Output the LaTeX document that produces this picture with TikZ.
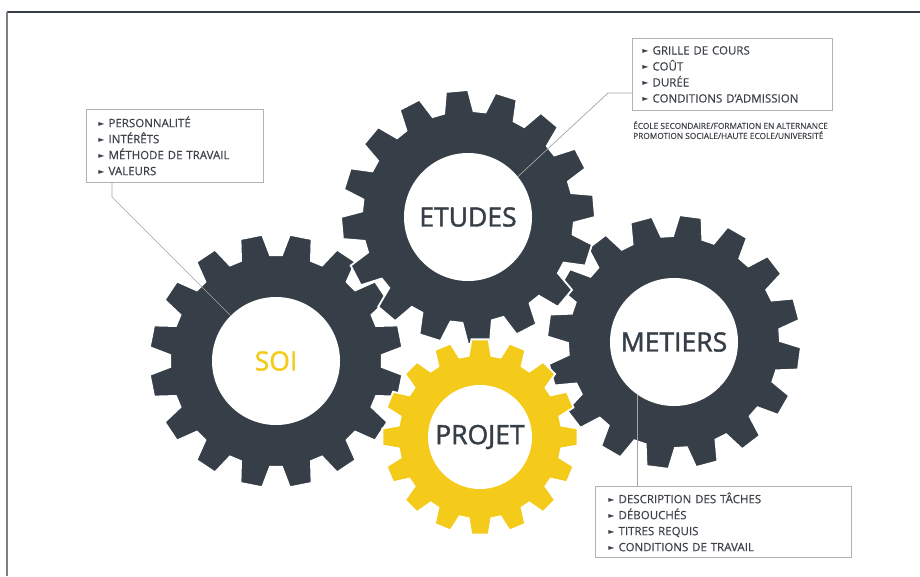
\documentclass[tikz,border=0pt]{standalone}
\usepackage{fontspec}
\setmainfont{Open Sans}[FakeBold=0.4]
\newfontfamily\hubfont{Open Sans}[FakeBold=1.6]
\newfontfamily\symbfont{DejaVu Sans}
\usetikzlibrary{positioning}
\definecolor{slate}{HTML}{363F48}
\definecolor{sun}{HTML}{F5CB1B}
\definecolor{inkgray}{HTML}{3E434A}
\def\tri{{\symbfont\fontsize{8}{8}\selectfont\raisebox{0.6pt}{►}}\hspace{4pt}}
% gear: centre, outer radius, root radius, offset, colour
\def\gear#1#2#3#4#5{\filldraw[#5, draw=white, line width=1.8pt, shift={#1}] ({#4-8}:#3) \foreach \k in {0,...,15}{ -- ({\k*22.5+#4-8}:#3) -- ({\k*22.5+#4-5}:#2) -- ({\k*22.5+#4+5}:#2) -- ({\k*22.5+#4+8}:#3)} -- cycle;}

\begin{document}
\begin{tikzpicture}[x=1pt,y=-1pt,
  hub/.style={circle, fill=white, inner sep=0pt, minimum size=128pt, text=slate, font=\hubfont\fontsize{26.5}{26.5}\selectfont},
  infobox/.style={draw=gray!60, line width=0.8pt, fill=white, align=left, anchor=north west, text=inkgray, font=\fontsize{11.5}{16}\selectfont},
  leader/.style={draw=gray!70, line width=0.7pt}]
\useasboundingbox (0,0) rectangle (920,576);
\draw[slate, line width=1.2pt] (7,12) -- (920,12);
\draw[gray, line width=1.2pt] (7,12) -- (7,576);

% the gears
\gear{(276,361)}{127}{106}{11.25}{slate}
\gear{(674,342)}{127}{106}{7.5}{slate}
\gear{(468,217)}{127}{106}{17.5}{slate}
\gear{(480,437)}{98}{82}{0}{sun}

\node[hub] (soi) at (276,361) {\textcolor{sun}{SOI}};
\node[hub] (etudes) at (468,217) {ETUDES};
\node[hub] (metiers) at (674,342) {METIERS};
\node[hub, minimum size=104pt] (projet) at (480,437) {PROJET};

% the boxes
\node[infobox, inner xsep=12pt, text width=153pt, minimum height=73pt] (soibox) at (86,109)
  {\tri PERSONNALITÉ\\ \tri INTÉRÊTS\\ \tri MÉTHODE DE TRAVAIL\\ \tri VALEURS};
\node[infobox, inner xsep=10pt, text width=180pt, minimum height=72pt] (etudesbox) at (632,38)
  {\tri GRILLE DE COURS\\ \tri COÛT\\ \tri DURÉE\\ \tri CONDITIONS D'ADMISSION};
\node[infobox, inner xsep=13pt, text width=230pt, minimum height=71pt] (metiersbox) at (595,486)
  {\tri DESCRIPTION DES TÂCHES\\ \tri DÉBOUCHÉS\\ \tri TITRES REQUIS\\ \tri CONDITIONS DE TRAVAIL};
\node[align=left, anchor=north west, inner sep=0pt, text=inkgray, font=\fontsize{8.3}{10}\selectfont] (ecoles) at (633,121)
  {ÉCOLE SECONDAIRE/FORMATION EN ALTERNANCE\\ PROMOTION SOCIALE/HAUTE ECOLE/UNIVERSITÉ};

% leaders
\coordinate (sbend) at (112,197);
\coordinate (ebend) at (608,93);
\draw[leader] (sbend |- soibox.south) -- (sbend) -- (soi.135);
\draw[leader] (etudes.39) -- (ebend) -- (ebend -| etudesbox.west);
\draw[leader] (metiers.235) -- (metiers.235 |- metiersbox.north);
\end{tikzpicture}
\end{document}
